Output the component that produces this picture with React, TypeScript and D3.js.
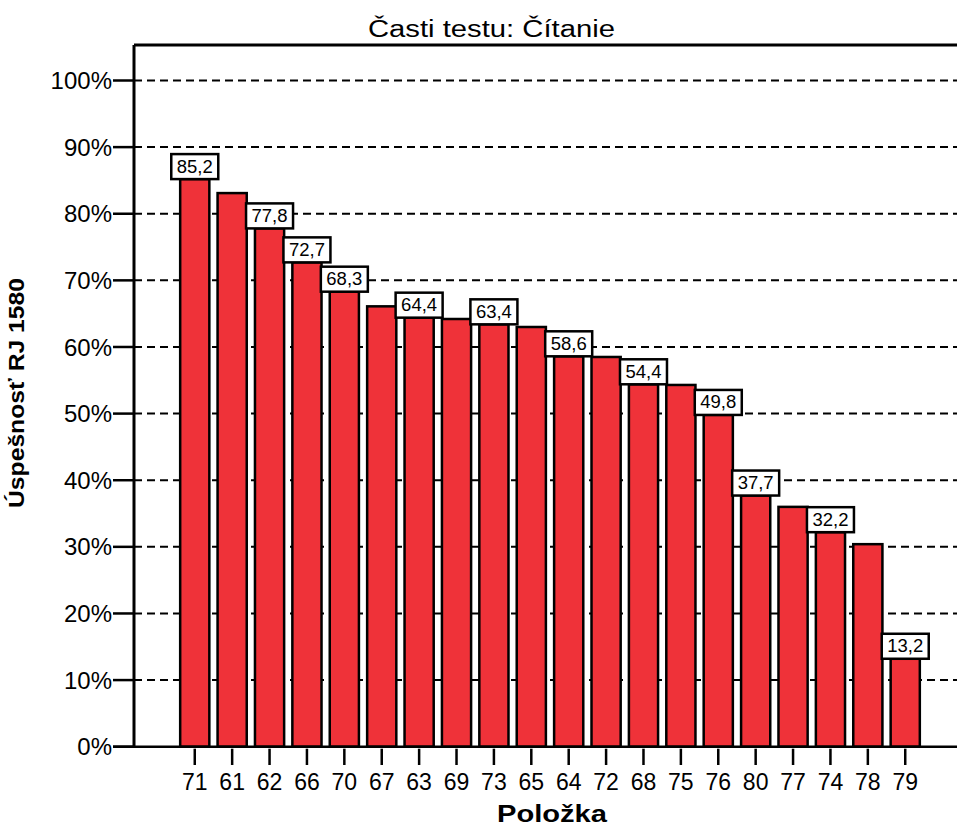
import React from "react";
import * as d3 from "d3";

const categories = ["71","61","62","66","70","67","63","69","73","65","64","72","68","75","76","80","77","74","78","79"];
const values = [85.2,83.1,77.8,72.7,68.3,66.1,64.4,64.2,63.4,63.0,58.6,58.5,54.4,54.3,49.8,37.7,36.0,32.2,30.4,13.2];
const labelShown = [true,false,true,true,true,false,true,false,true,false,true,false,true,false,true,true,false,true,false,true];
const yTicks = [0,10,20,30,40,50,60,70,80,90,100];
const title = "Časti testu: Čítanie";
const xTitle = "Položka";
const yTitle = "Úspešnosť RJ 1580";

const W = 957, H = 826;
const FONT = "'Liberation Sans', Arial, Helvetica, sans-serif";

export default function App() {
  const left = 134, right = 966, top = 45, bottom = 746.7;
  const x = d3.scaleBand<string>().domain(categories).range([left, right]).paddingInner(0.22).paddingOuter(1.235);
  const y = d3.scaleLinear().domain([0, 100]).range([bottom, 80.5]);
  const fmt = (v: number) => v.toFixed(1).replace(".", ",");
  const boxW = 47, boxH = 25;

  return (
    <svg width={W} height={H} style={{ position: "absolute", left: 0, top: 0, background: "#fff" }} fontFamily={FONT}>
      <text x={491.5} y={37} fontSize={23} textAnchor="middle" textLength={247} lengthAdjust="spacingAndGlyphs">{title}</text>
      {yTicks.filter(t => t > 0).map(t => (
        <line key={"g" + t} x1={left} x2={W} y1={y(t)} y2={y(t)} stroke="#000" strokeWidth={2} strokeDasharray="8,5" />
      ))}
      {categories.map((c, i) => (
        <rect key={"b" + c} x={x(c)!} y={y(values[i])} width={x.bandwidth()} height={bottom - y(values[i])}
          fill="#EF3239" stroke="#000" strokeWidth={2.5} />
      ))}
      <line x1={left} x2={W} y1={top} y2={top} stroke="#000" strokeWidth={3} />
      <line x1={left} x2={left} y1={top} y2={bottom} stroke="#000" strokeWidth={3} />
      <line x1={113} x2={W} y1={bottom} y2={bottom} stroke="#000" strokeWidth={2.5} />
      {yTicks.map(t => (
        <g key={"yt" + t}>
          <line x1={113} x2={left} y1={y(t)} y2={y(t)} stroke="#000" strokeWidth={2.5} />
          <text x={112} y={y(t)} dy="0.36em" fontSize={24} textAnchor="end">{t + "%"}</text>
        </g>
      ))}
      {categories.map(c => {
        const cx = x(c)! + x.bandwidth() / 2;
        return (
          <g key={"xt" + c}>
            <line x1={cx} x2={cx} y1={bottom + 2} y2={765} stroke="#000" strokeWidth={2.5} />
            <text x={cx} y={790} fontSize={23} textAnchor="middle">{c}</text>
          </g>
        );
      })}
      {categories.map((c, i) => {
        if (!labelShown[i]) return null;
        const cx = x(c)! + x.bandwidth() / 2;
        const by = y(values[i]);
        return (
          <g key={"l" + c}>
            <rect x={cx - boxW / 2} y={by - boxH} width={boxW} height={boxH} fill="#fff" stroke="#000" strokeWidth={2.5} />
            <text x={cx} y={by - 6.5} fontSize={18} textAnchor="middle" textLength={36} lengthAdjust="spacingAndGlyphs">{fmt(values[i])}</text>
          </g>
        );
      })}
      <text x={552} y={822} fontSize={23} fontWeight="bold" textAnchor="middle" textLength={110} lengthAdjust="spacingAndGlyphs">{xTitle}</text>
      <text transform={`translate(24,393) rotate(-90)`} fontSize={22} fontWeight="bold" textAnchor="middle" textLength={230} lengthAdjust="spacingAndGlyphs">{yTitle}</text>
    </svg>
  );
}
